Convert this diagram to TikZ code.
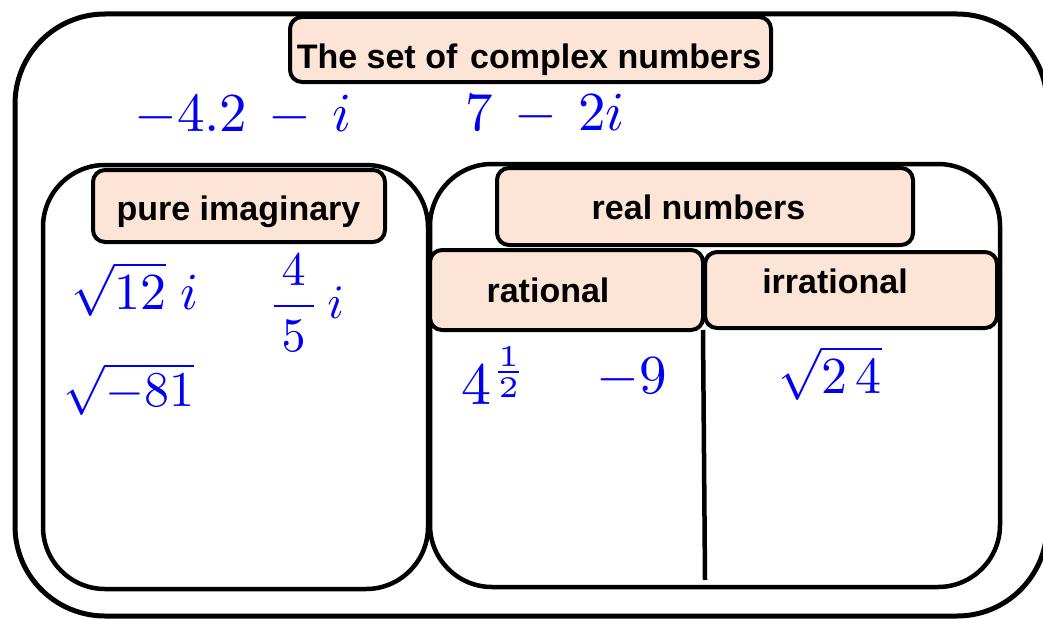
\documentclass[tikz,border=0pt]{standalone}
\usepackage{fontspec}
\usepackage{amsmath}
\usepackage{graphicx}
\newfontfamily\labfont{Liberation Sans}
\definecolor{peach}{RGB}{252,229,214}
\definecolor{ink}{RGB}{0,0,245}
\tikzset{
  frame/.style={draw=black, line width=4.5pt, rounded corners=62pt, inner sep=0pt},
  tag/.style={draw=black, line width=4pt, fill=peach, rounded corners=12pt, inner sep=0pt},
  tagtext/.style={font=\labfont\bfseries\fontsize{34}{40}\selectfont, anchor=base, inner sep=0pt},
  hand/.style={text=ink, inner sep=0pt},
  divider/.style={draw=black, line width=4.5pt}
}
\begin{document}
\begin{tikzpicture}[x=1pt,y=-1pt]
\useasboundingbox (0,0) rectangle (1043,618);
\clip (0,0) rectangle (1043,618);
% outer set
\node[draw=black, line width=5pt, rounded corners=90pt, inner sep=0pt,
      minimum width=1032pt, minimum height=602pt] (outer) at (531,315) {};
% containers
\node[frame, minimum width=385pt, minimum height=424pt] (pureframe) at (235.5,377) {};
\node[frame, minimum width=570pt, minimum height=423pt] (realframe) at (715,375.5) {};
% label boxes
\node[tag, minimum width=481pt, minimum height=65pt] (titlebox) at (530.5,49.5) {};
\node[tag, minimum width=292pt, minimum height=72pt] (purebox) at (239,206) {};
\node[tag, minimum width=416pt, minimum height=77pt] (realbox) at (705,206.5) {};
\node[tag, minimum width=273pt, minimum height=80pt] (ratbox) at (566.5,290) {};
\node[tag, minimum width=292pt, minimum height=76pt] (irrbox) at (851,290) {};
% divider
\coordinate (divend) at (705,580);
\draw[divider] (irrbox.south west) -- (divend);
% label texts
\node[tagtext] (titletext) at (529,68) {The set of\hspace{0.1em} complex numbers};
\node[tagtext] (puretext) at (238.5,220) {pure imaginary};
\node[tagtext] (realtext) at (698.5,219) {real numbers};
\node[tagtext] (rattext) at (548,302) {rational};
\node[tagtext] (irrtext) at (835,293) {irrational};
% handwritten numbers
\node[hand] (h1) at (243,116) {\scalebox{5.5}{$-4{.}2\,-\,i$}};
\node[hand] (h2) at (545,115) {\scalebox{5.5}{$7\,-\,2i$}};
\node[hand] (h3) at (135,289) {\scalebox{5.2}{$\sqrt{12}\;i$}};
\node[hand] (h4) at (306,303) {\scalebox{4.8}{$\dfrac{\,4\,}{\,5\,}\,i$}};
\node[hand] (h5) at (129,389) {\scalebox{5}{$\sqrt{-81}$}};
\node[hand] (h6) at (495,376) {\scalebox{6}{$4^{\frac{1}{2}}$}};
\node[hand] (h7) at (632,378) {\scalebox{5.5}{$-9$}};
\node[hand] (h8) at (830,373) {\scalebox{5.2}{$\sqrt{2\,4}$}};
\end{tikzpicture}
\end{document}
